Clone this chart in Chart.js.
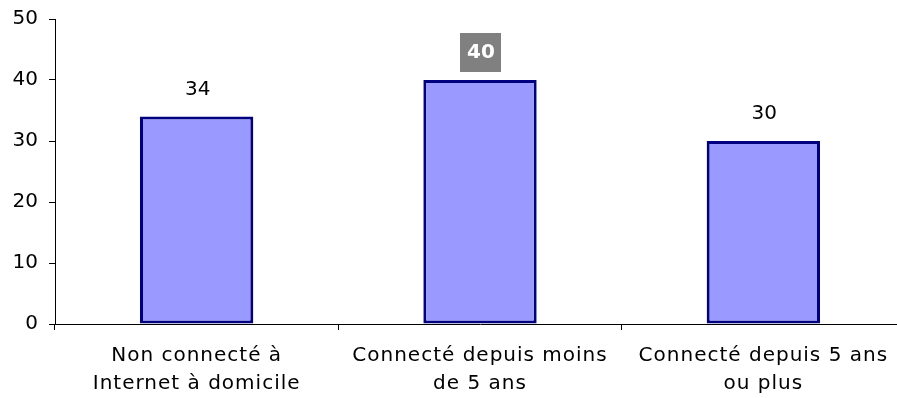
<!DOCTYPE html>
<html>
<head>
<meta charset="utf-8">
<script src="https://cdn.jsdelivr.net/npm/chart.js@4/dist/chart.umd.min.js"></script>
<style>
  html, body { margin: 0; padding: 0; background: #fff; }
  #wrap { width: 897px; height: 398px; overflow: hidden; }
  #box { width: 906px; height: 398px; position: relative; }
</style>
</head>
<body>
<div id="wrap"><div id="box"><canvas id="c"></canvas></div></div>
<script>
// categories and values
const categories = [
  ['Non connecté à', 'Internet à domicile'],
  ['Connecté depuis moins', 'de 5 ans'],
  ['Connecté depuis 5 ans', 'ou plus']
];
const values = [34, 40, 30];
const highlighted = [false, true, false];   // the 40 gets the grey box
const yTicks = [0, 10, 20, 30, 40, 50];

const FONT = 'DejaVu Sans, Verdana, sans-serif';

// value labels above the bars
const valueLabels = {
  id: 'valueLabels',
  afterDatasetsDraw(chart) {
    const ctx = chart.ctx;
    const meta = chart.getDatasetMeta(0);
    ctx.save();
    ctx.textAlign = 'center';
    ctx.textBaseline = 'middle';
    meta.data.forEach((bar, i) => {
      const x = bar.x;
      const y = bar.y - 28;
      const txt = String(values[i]);
      if (highlighted[i]) {
        ctx.font = 'bold 20px ' + FONT;
        ctx.fillStyle = '#808080';
        ctx.fillRect(x - 20, y - 19, 41, 39);
        ctx.fillStyle = '#fff';
      } else {
        ctx.font = '20px ' + FONT;
        ctx.fillStyle = '#000';
      }
      ctx.fillText(txt, x + 1, y + 1);
    });
    ctx.restore();
  }
};

new Chart(document.getElementById('c'), {
  type: 'bar',
  data: {
    labels: categories,
    datasets: [{
      data: values,
      backgroundColor: '#9999ff',
      borderColor: '#000080',
      borderWidth: 3,
      borderSkipped: false,
      categoryPercentage: 0.4,
      barPercentage: 1
    }]
  },
  options: {
    responsive: true,
    maintainAspectRatio: false,
    animation: false,
    layout: { padding: { top: 19, left: 0, right: 1, bottom: 0 } },
    plugins: { legend: { display: false }, tooltip: { enabled: false } },
    scales: {
      x: {
        grid: { offset: true, drawOnChartArea: false, color: '#000', tickLength: 6 },
        border: { color: '#000', width: 1 },
        ticks: { color: '#000', font: { family: FONT, size: 20, lineHeight: 1.4 }, maxRotation: 0, autoSkip: false, padding: 12 },
        afterFit(s) {
          s.height = 74;
          // category labels are spaced out a little, like Verdana
          if (!s._spaced) {
            const orig = s.drawLabels;
            s.drawLabels = function (area) {
              this.ctx.letterSpacing = '1px';
              orig.call(this, area);
              this.ctx.letterSpacing = '0px';
            };
            s._spaced = true;
          }
        }
      },
      y: {
        min: 0,
        max: 50,
        afterBuildTicks(s) { s.ticks = yTicks.map(v => ({ value: v })); },
        grid: { drawOnChartArea: false, color: '#000', tickLength: 6 },
        border: { color: '#000', width: 1 },
        ticks: { color: '#000', font: { family: FONT, size: 20, lineHeight: 1 }, padding: 11 },
        afterFit(s) {
          s.width = 55;
          s.paddingTop = 0;
          s.paddingBottom = 0;
        }
      }
    }
  },
  plugins: [valueLabels]
});
</script>
</body>
</html>
